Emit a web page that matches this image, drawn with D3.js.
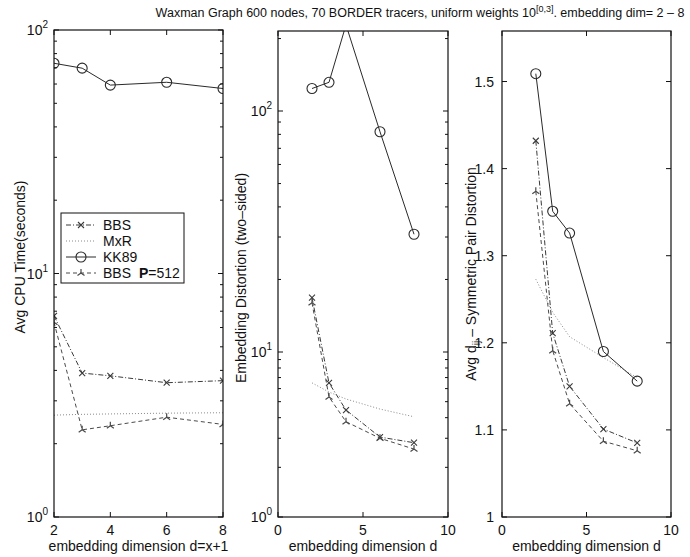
<!DOCTYPE html>
<html>
<head>
<meta charset="utf-8">
<script src="https://cdn.jsdelivr.net/npm/d3@7"></script>
<style>
  body { margin: 0; background: #fff; }
  svg { font-family: "Liberation Sans", Arial, Helvetica, sans-serif; }
</style>
</head>
<body>
<div id="chart"></div>
<script>
// dimensions on the x axis
var dims = [2, 3, 4, 6, 8]

// panel 1: avg cpu time (seconds), log axis
var cpuBBS = [6.7, 3.9, 3.8, 3.56, 3.63]
var cpuMxR = [2.62, 2.64, 2.65, 2.67, 2.68]
var cpuKK89 = [73, 69.7, 59.4, 61, 57.5]
var cpuBBS512 = [6.3, 2.28, 2.37, 2.57, 2.4]

// panel 2: embedding distortion (two-sided), log axis
var distBBS = [16.8, 6.49, 4.45, 3.05, 2.82]
var distMxR = [6.5, 5.72, 5.19, 4.51, 4.05]
var distKK89 = [124, 131.6, 228, 82, 30.8]
var distBBS512 = [16.0, 5.34, 3.78, 3.0, 2.58]

// panel 3: avg symmetric pair distortion
var symBBS = [1.432, 1.211, 1.15, 1.101, 1.085]
var symMxR = [1.273, 1.235, 1.207, 1.183, 1.16]
var symKK89 = [1.509, 1.351, 1.326, 1.19, 1.156]
var symBBS512 = [1.374, 1.191, 1.13, 1.087, 1.076]

var xTicks1 = [2, 4, 6, 8]
var xTicks23 = [0, 5, 10]
var yTicks3 = [1, 1.1, 1.2, 1.3, 1.4, 1.5]
var legendNames = ['BBS', 'MxR', 'KK89', 'BBS']

var W = 690, H = 557
var svg = d3.select('#chart').append('svg').attr('width', W).attr('height', H)

var styles = {
  BBS:    {stroke: '#3a3a3a', dash: '5,2,1,2', width: 1, marker: 'x'},
  MxR:    {stroke: '#8a8a8a', dash: '1,2', width: 1, marker: null},
  KK89:   {stroke: '#2a2a2a', dash: null, width: 1, marker: 'o'},
  BBS512: {stroke: '#4a4a4a', dash: '4,3', width: 1, marker: 'star'}
}

function marker(g, type, x, y, col) {
  if (type === 'o') {
    g.append('circle').attr('cx', x).attr('cy', y).attr('r', 5)
      .attr('fill', 'none').attr('stroke', col).attr('stroke-width', 1.1)
  } else if (type === 'x') {
    g.append('path').attr('d', `M${x-3},${y-3}L${x+3},${y+3}M${x-3},${y+3}L${x+3},${y-3}`)
      .attr('stroke', col).attr('stroke-width', 1.1)
  } else if (type === 'star') {
    g.append('path').attr('d', `M${x},${y}L${x},${y-4}M${x},${y}L${x-3.5},${y+2.5}M${x},${y}L${x+3.5},${y+2.5}`)
      .attr('stroke', col).attr('stroke-width', 1.2)
  }
}

function panel(id, box, x, y, series) {
  var g = svg.append('g')
  var clip = svg.append('clipPath').attr('id', 'clip' + id)
  clip.append('rect').attr('x', box.x0).attr('y', box.y0)
    .attr('width', box.x1 - box.x0).attr('height', box.y1 - box.y0)
  var plot = g.append('g').attr('clip-path', `url(#clip${id})`)
  series.forEach(s => {
    var st = styles[s.key]
    var line = d3.line().x((d, i) => x(dims[i])).y(d => y(d))
    plot.append('path').attr('d', line(s.values))
      .attr('fill', 'none').attr('stroke', st.stroke)
      .attr('stroke-width', st.width)
      .attr('stroke-dasharray', st.dash)
    if (st.marker) s.values.forEach((v, i) => marker(plot, st.marker, x(dims[i]), y(v), st.stroke))
  })
  g.append('rect').attr('x', box.x0).attr('y', box.y0)
    .attr('width', box.x1 - box.x0).attr('height', box.y1 - box.y0)
    .attr('fill', 'none').attr('stroke', '#111').attr('stroke-width', 1.2)
  return g
}

function ticksX(g, box, x, vals, fmt) {
  vals.forEach(v => {
    var px = x(v)
    g.append('line').attr('x1', px).attr('x2', px).attr('y1', box.y1).attr('y2', box.y1 - 5).attr('stroke', '#111')
    g.append('line').attr('x1', px).attr('x2', px).attr('y1', box.y0).attr('y2', box.y0 + 5).attr('stroke', '#111')
    g.append('text').attr('x', px).attr('y', box.y1 + 18).attr('text-anchor', 'middle')
      .attr('font-size', 14).attr('fill', '#111').text(fmt ? fmt(v) : v)
  })
}

function tickY(g, box, py, len) {
  g.append('line').attr('x1', box.x0).attr('x2', box.x0 + len).attr('y1', py).attr('y2', py).attr('stroke', '#111')
  g.append('line').attr('x1', box.x1).attr('x2', box.x1 - len).attr('y1', py).attr('y2', py).attr('stroke', '#111')
}

function logTicks(g, box, y, lo, hi) {
  for (var e = lo; e <= hi; e++) {
    var py = y(Math.pow(10, e))
    if (py >= box.y0 - 0.5 && py <= box.y1 + 0.5) {
      tickY(g, box, py, 5)
      var t = g.append('text').attr('x', box.x0 - 6).attr('y', py + 5)
        .attr('text-anchor', 'end').attr('font-size', 14).attr('fill', '#111')
      t.append('tspan').text('10')
      t.append('tspan').attr('dy', -7).attr('font-size', 10).text(e)
    }
    for (var m = 2; m < 10; m++) {
      var pm = y(m * Math.pow(10, e))
      if (pm > box.y0 + 1 && pm < box.y1 - 1) tickY(g, box, pm, 3)
    }
  }
}

function ylabel(g, cx, cy, text) {
  return g.append('text').attr('transform', `translate(${cx},${cy}) rotate(-90)`)
    .attr('text-anchor', 'middle').attr('font-size', 14).attr('fill', '#111').text(text)
}

// panel 1
var b1 = {x0: 54, x1: 223, y0: 30, y1: 517}
var x1 = d3.scaleLinear().domain([2, 8]).range([b1.x0, b1.x1])
var y1 = d3.scaleLog().domain([1, 100]).range([b1.y1, b1.y0])
var g1 = panel(1, b1, x1, y1, [
  {key: 'BBS', values: cpuBBS}, {key: 'MxR', values: cpuMxR},
  {key: 'KK89', values: cpuKK89}, {key: 'BBS512', values: cpuBBS512}
])
ticksX(g1, b1, x1, xTicks1)
logTicks(g1, b1, y1, 0, 2)
ylabel(g1, 25, 257, 'Avg CPU Time(seconds)')
g1.append('text').attr('x', (b1.x0 + b1.x1) / 2).attr('y', 551).attr('text-anchor', 'middle')
  .attr('font-size', 14).attr('fill', '#111').text('embedding dimension d=x+1')

// legend
var lg = g1.append('g')
lg.append('rect').attr('x', 61).attr('y', 213).attr('width', 123).attr('height', 70)
  .attr('fill', '#fff').attr('stroke', '#111').attr('stroke-width', 1)
var legKeys = ['BBS', 'MxR', 'KK89', 'BBS512']
legKeys.forEach((k, i) => {
  var st = styles[k]
  var ly = 225 + i * 16
  lg.append('line').attr('x1', 66).attr('x2', 96).attr('y1', ly).attr('y2', ly)
    .attr('stroke', st.stroke).attr('stroke-dasharray', st.dash)
  if (st.marker) marker(lg, st.marker, 81, ly, st.stroke)
  var t = lg.append('text').attr('x', 103).attr('y', ly + 5).attr('font-size', 14).attr('fill', '#111')
  t.append('tspan').text(legendNames[i])
  if (k === 'BBS512') {
    t.append('tspan').attr('dx', 8).attr('font-weight', 'bold').text('P')
    t.append('tspan').text('=512')
  }
})

// panel 2, the printed decades are not evenly spaced so the log scale is piecewise
var b2 = {x0: 278, x1: 448, y0: 31, y1: 517}
var x2 = d3.scaleLinear().domain([0, 10]).range([b2.x0, b2.x1])
var y2 = d3.scaleLog().domain([1, 10, 100, 215]).range([517, 352, 111, 31])
var g2 = panel(2, b2, x2, y2, [
  {key: 'BBS', values: distBBS}, {key: 'MxR', values: distMxR},
  {key: 'KK89', values: distKK89}, {key: 'BBS512', values: distBBS512}
])
ticksX(g2, b2, x2, xTicks23)
logTicks(g2, b2, y2, 0, 2)
ylabel(g2, 246, 278, 'Embedding Distortion (two\u2013sided)')
g2.append('text').attr('x', (b2.x0 + b2.x1) / 2).attr('y', 551).attr('text-anchor', 'middle')
  .attr('font-size', 14).attr('fill', '#111').text('embedding dimension d')

// panel 3
var b3 = {x0: 502, x1: 671, y0: 31, y1: 517}
var x3 = d3.scaleLinear().domain([0, 10]).range([b3.x0, b3.x1])
var y3 = d3.scaleLinear().domain([1, 1.558]).range([b3.y1, b3.y0])
var g3 = panel(3, b3, x3, y3, [
  {key: 'BBS', values: symBBS}, {key: 'MxR', values: symMxR},
  {key: 'KK89', values: symKK89}, {key: 'BBS512', values: symBBS512}
])
ticksX(g3, b3, x3, xTicks23)
yTicks3.forEach(v => {
  var py = y3(v)
  tickY(g3, b3, py, 5)
  g3.append('text').attr('x', b3.x0 - 8).attr('y', py + 5).attr('text-anchor', 'end')
    .attr('font-size', 14).attr('fill', '#111').text(v === 1 ? '1' : d3.format('.1f')(v))
})
var yl3 = g3.append('text').attr('transform', `translate(476,274) rotate(-90)`)
  .attr('text-anchor', 'middle').attr('font-size', 14).attr('fill', '#111')
yl3.append('tspan').text('Avg d')
yl3.append('tspan').attr('dy', 4).attr('font-size', 10).text('ij')
yl3.append('tspan').attr('dy', -4).text(' \u2013 Symmetric Pair Distortion')
g3.append('text').attr('x', (b3.x0 + b3.x1) / 2).attr('y', 551).attr('text-anchor', 'middle')
  .attr('font-size', 14).attr('fill', '#111').text('embedding dimension d')

// title
var tt = svg.append('text').attr('x', 420).attr('y', 17).attr('text-anchor', 'middle')
  .attr('font-size', 12.5).attr('fill', '#111')
tt.append('tspan').text('Waxman Graph 600 nodes, 70 BORDER tracers, uniform weights 10')
tt.append('tspan').attr('dy', -5).attr('font-size', 9).text('[0,3]')
tt.append('tspan').attr('dy', 5).text('. embedding dim= 2 \u2013 8')
</script>
</body>
</html>
